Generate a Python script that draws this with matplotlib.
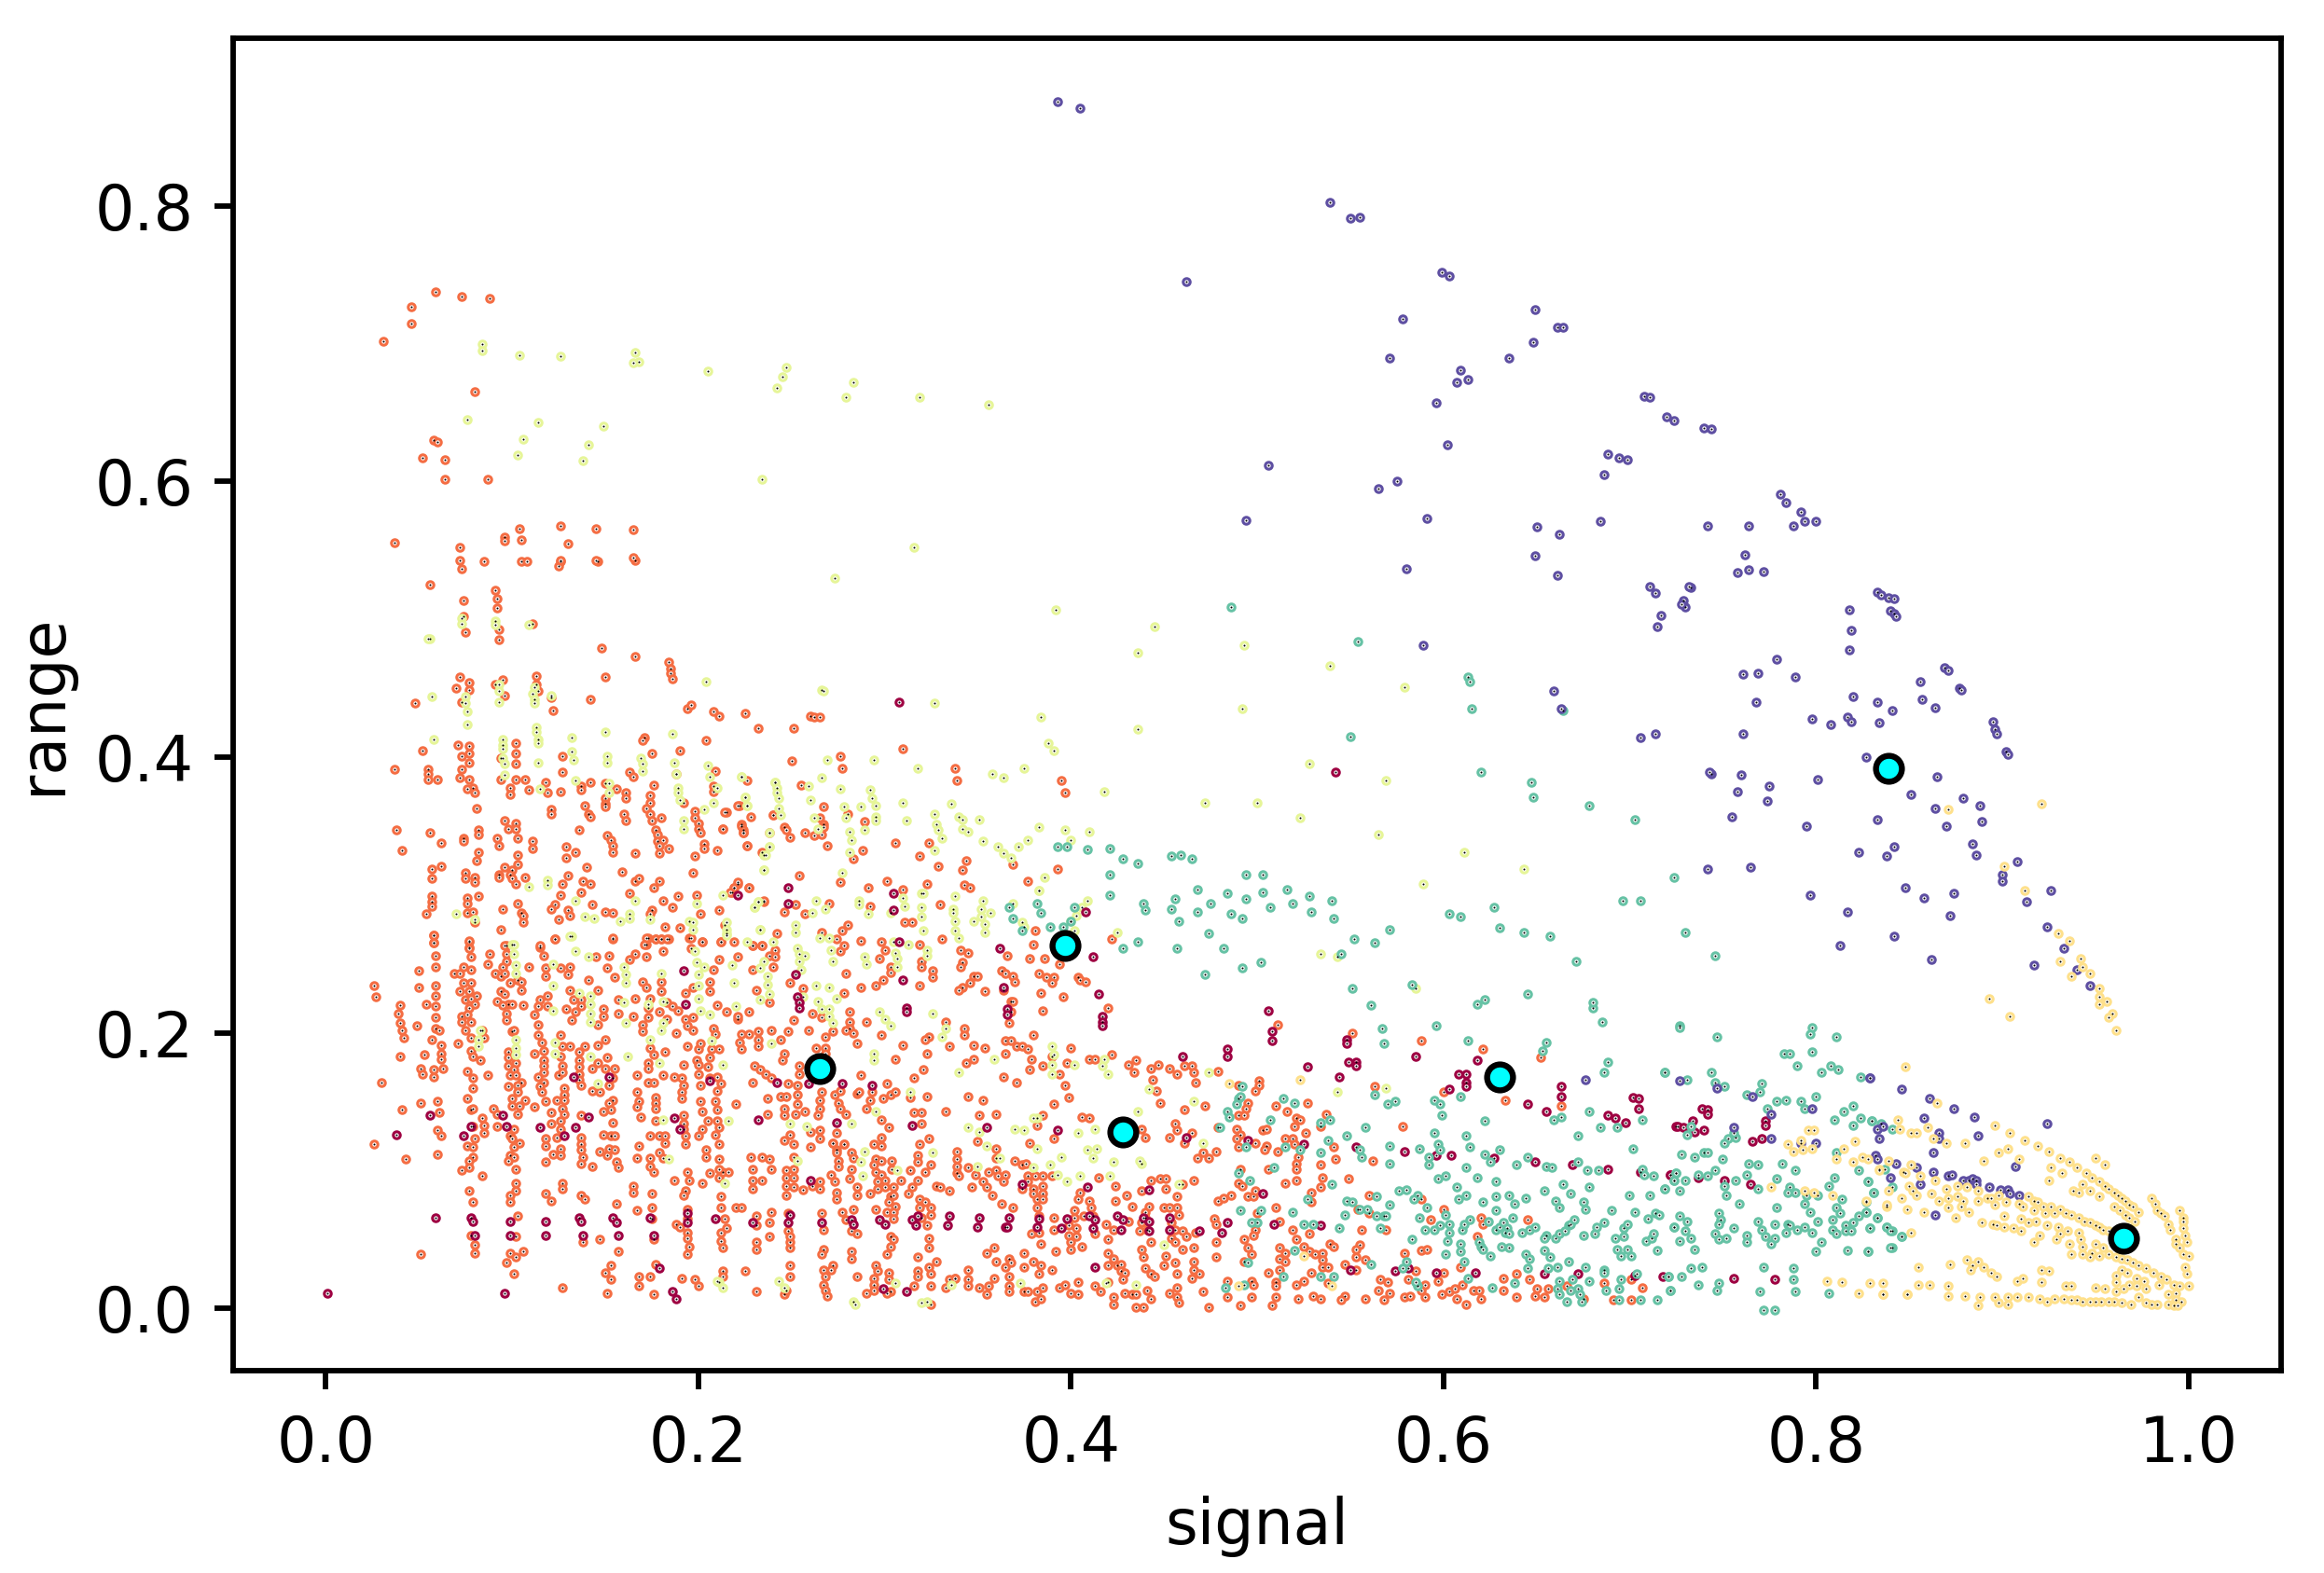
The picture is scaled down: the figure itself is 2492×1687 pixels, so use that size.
import numpy as np
import matplotlib
matplotlib.use("Agg")
import matplotlib.pyplot as plt

# (signal, range), un grupo por cluster
purple = [(.764,.536),(.733,.523),(.729,.514),(.730,.509),(.833,.520),(.835,.518),(.839,.516),(.842,.515),(.818,.507),(.840,.506),(.842,.504),(.843,.502),(.819,.492),(.818,.478),(.779,.471),(.761,.460),(.769,.461),(.789,.458),(.869,.465),(.871,.463),(.856,.455),(.877,.450),(.878,.449),(.768,.440),(.820,.444),(.833,.440),(.841,.434),(.857,.442),(.864,.436),(.798,.428),(.808,.424),(.817,.429),(.819,.426),(.834,.425),(.895,.426),(.896,.420),(.897,.417),(.761,.417),(.902,.404),(.903,.402),(.827,.400),(.744,.388),(.760,.387),(.775,.379),(.758,.375),(.774,.368),(.801,.384),(.865,.386),(.851,.373),(.864,.363),(.879,.370),(.888,.365),(.889,.353),(.870,.350),(.795,.350),(.833,.355),(.884,.337),(.886,.329),(.842,.335),(.823,.331),(.838,.328),(.765,.320),(.908,.324),(.900,.315),(.900,.310),(.926,.303),(.913,.295),(.848,.305),(.858,.298),(.874,.301),(.797,.300),(.872,.285),(.817,.288),(.924,.277),(.933,.261),(.842,.270),(.813,.263),(.862,.253),(.917,.249),(.940,.246),(.947,.234),
 (.393,.876),(.405,.871),(.539,.803),(.550,.791),(.555,.792),(.462,.745),(.599,.752),(.603,.749),(.578,.718),(.571,.690),(.649,.725),(.648,.701),(.661,.712),(.664,.712),(.609,.681),(.613,.674),(.607,.672),(.635,.690),(.596,.657),(.602,.627),(.708,.662),(.711,.661),(.720,.647),(.724,.644),(.740,.639),(.744,.638),(.688,.620),(.694,.617),(.699,.616),(.686,.605),(.684,.571),(.650,.567),(.662,.562),(.649,.546),(.661,.532),(.591,.573),(.565,.595),(.575,.600),(.506,.612),(.494,.572),(.580,.537),(.589,.481),(.711,.524),(.714,.519),(.732,.524),(.728,.511),(.717,.503),(.715,.495),(.742,.568),(.764,.568),(.762,.547),(.772,.535),(.758,.534),(.781,.591),(.784,.585),(.792,.578),(.788,.568),(.794,.571),(.800,.571),(.706,.414),(.714,.417),(.659,.448),(.663,.435),(.743,.389),(.755,.357),(.742,.319),
 (.829,.167),(.846,.159),(.861,.152),(.874,.145),(.885,.139),(.924,.134),(.858,.138),(.833,.130),(.836,.132),(.834,.123),(.866,.127),(.866,.123),(.887,.125),(.863,.113),(.907,.103),(.832,.111),(.833,.108),(.843,.105),(.854,.102),(.863,.099),(.871,.096),(.873,.097),(.879,.093),(.882,.093),(.884,.094),(.886,.093),(.886,.090),(.893,.088),(.899,.086),(.903,.086),(.904,.083),(.909,.082),(.840,.095),(.856,.090),(.864,.068),(.676,.166),
 (.727,.165),(.747,.160),(.766,.154),(.776,.141),(.798,.145),(.756,.131),(.776,.123),(.792,.120),(.800,.120),(.829,.167) ]

yellow = [(.844,.137),(.865,.149),(.845,.130),(.851,.127),(.854,.127),(.860,.131),(.863,.123),(.870,.120),(.880,.120),(.896,.133),(.904,.127),(.912,.122),(.919,.118),(.925,.114),(.931,.109),(.936,.106),(.940,.102),(.945,.098),(.948,.095),(.952,.092),(.955,.089),(.957,.087),(.960,.084),(.962,.082),(.964,.080),(.966,.078),(.968,.075),(.970,.074),(.973,.070),(.950,.109),(.955,.104),(.898,.113),(.903,.116),(.890,.107),(.909,.108),(.926,.102),(.932,.098),(.925,.093),(.943,.090),(.938,.085),(.941,.084),(.947,.085),(.952,.081),(.960,.074),(.963,.071),(.966,.068),(.968,.066),(.971,.063),(.980,.080),(.982,.076),(.983,.071),(.985,.069),(.987,.067),(.989,.061),(.990,.057),(.993,.050),(.993,.047),(.995,.044),(.997,.039),(.995,.071),(.997,.066),(.997,.063),(.997,.058),(.998,.053),(.999,.048),(1.0,.038),(.998,.030),(.999,.025),(1.0,.016),(.834,.101),
 (.847,.099),(.851,.104),(.848,.098),(.856,.096),(.864,.093),(.870,.087),(.876,.089),(.881,.088),(.887,.085),(.850,.089),(.852,.085),(.854,.082),(.846,.080),(.862,.083),(.866,.078),(.871,.080),(.876,.081),(.879,.078),(.887,.078),(.892,.080),(.896,.075),(.894,.080),(.898,.082),(.902,.077),(.914,.081),(.917,.078),(.919,.077),(.922,.074),(.926,.074),(.931,.072),(.934,.069),(.937,.068),(.941,.066),(.944,.063),(.947,.062),(.950,.060),(.952,.059),(.954,.057),(.957,.056),(.909,.076),(.911,.074),(.917,.071),(.923,.069),(.928,.069),
 (.838,.074),(.849,.072),(.858,.070),(.871,.073),(.878,.074),(.882,.070),(.875,.066),(.889,.062),(.895,.061),(.897,.060),(.901,.059),(.901,.067),(.906,.058),(.910,.065),(.910,.056),(.914,.062),(.918,.063),(.924,.060),(.930,.059),(.931,.054),(.935,.056),(.941,.055),(.942,.050),(.943,.045),(.920,.053),(.917,.048),(.929,.050),(.936,.047),(.950,.047),(.954,.044),(.937,.039),(.943,.039),(.948,.040),(.947,.037),(.952,.038),(.957,.039),(.961,.037),(.964,.036),(.967,.035),(.970,.033),(.973,.031),(.977,.029),(.981,.026),(.985,.023),(.988,.021),(.992,.017),(.995,.016),
 (.964,.028),(.967,.026),(.961,.024),(.961,.019),(.972,.022),(.968,.017),(.976,.020),(.972,.016),(.977,.014),(.965,.014),(.961,.012),(.955,.014),(.950,.015),(.984,.017),(.989,.010),(.993,.011),(.993,.006),(.996,.005),(.989,.003),(.992,.002),(.994,.002),(.983,.003),(.980,.003),(.977,.004),(.973,.008),(.969,.003),(.964,.004),(.960,.005),(.957,.005),(.953,.005),(.950,.005),(.947,.005),(.943,.005),(.940,.006),(.937,.006),(.933,.007),(.928,.007),(.924,.005),(.920,.007),(.914,.008),(.908,.008),(.903,.008),(.896,.008),(.888,.008),(.880,.009),(.871,.009),(.849,.010),(.836,.010),(.887,.002),(.898,.004),(.903,.003),
 (.855,.017),(.861,.017),(.871,.016),(.829,.018),(.836,.018),(.855,.030),(.872,.032),(.881,.035),(.887,.034),(.884,.031),(.883,.028),(.890,.030),(.894,.026),(.897,.023),(.908,.020),(.911,.022),(.921,.028),(.925,.027),(.921,.019),(.934,.016),(.937,.016),
 (.921,.366),(.871,.362),(.901,.321),(.912,.303),(.930,.272),(.936,.267),(.942,.254),(.931,.252),(.943,.248),(.947,.243),(.937,.241),(.952,.232),(.952,.226),(.956,.223),(.952,.221),(.959,.214),(.957,.211),(.893,.225),(.904,.212),(.961,.202),(.523,.166),(.485,.163),(.525,.038),(.540,.016),(.490,.016),
 (.796,.129),(.799,.129),(.785,.119),(.792,.122),(.788,.114),(.793,.115),(.798,.116),(.776,.088),(.794,.085),(.799,.084),(.809,.082),(.811,.108),(.815,.116),(.821,.121),(.820,.106),(.825,.110),(.828,.108),(.848,.175),(.839,.107),(.834,.100),(.839,.085),(.838,.075),(.827,.078),(.851,.055),(.806,.020),(.814,.019),(.823,.011),(.836,.010),(.849,.010) ]

teal = [(.551,.232),(.561,.220),(.618,.221),(.622,.224),(.645,.228),(.680,.218),(.685,.208),(.567,.203),(.568,.192),(.596,.205),(.613,.194),(.655,.193),(.653,.187),(.688,.179),(.686,.171),(.719,.171),(.609,.154),(.595,.151),(.598,.148),(.599,.140),(.622,.136),(.563,.155),(.570,.148),(.574,.150),(.678,.143),(.659,.137),(.663,.139),(.684,.131),(.693,.131),(.707,.137),(.672,.125),(.702,.116),(.558,.131),(.548,.125),(.538,.122),(.534,.135),(.539,.137),(.514,.152),(.520,.149),(.507,.137),(.484,.143),(.485,.139),(.490,.152),(.491,.154),(.492,.161),(.489,.148),(.480,.131),(.494,.117),(.515,.117),(.523,.115),(.534,.113),(.595,.127),(.597,.119),(.598,.115),(.587,.116),(.592,.110),(.592,.104),(.612,.125),(.614,.117),(.622,.112),(.630,.115),(.625,.106),(.571,.118),(.571,.105),(.555,.115),(.556,.110),(.639,.104),(.645,.110),(.655,.103),(.658,.102),(.672,.106),(.677,.100),(.683,.100),(.707,.101),(.708,.097),(.713,.096),(.724,.093),(.725,.098),(.612,.102),(.597,.094),(.601,.096),(.618,.095),(.628,.092),(.607,.088),(.664,.090),(.678,.088),(.668,.083),(.654,.085),(.719,.087),(.700,.082),(.711,.082),(.628,.081),(.635,.082),(.638,.076),(.644,.080),(.612,.082),(.608,.079),(.621,.077),(.628,.071),(.660,.078),(.662,.073),(.675,.077),(.676,.072),(.690,.071),(.703,.070),(.714,.069),(.716,.068),(.710,.065),(.724,.059),
 (.576,.085),(.580,.086),(.586,.082),(.584,.079),(.591,.073),(.571,.075),(.564,.081),(.548,.078),(.551,.077),(.559,.072),(.555,.072),(.547,.068),(.564,.067),(.568,.067),(.569,.067),(.566,.058),(.601,.068),(.587,.066),(.603,.061),(.598,.060),(.590,.057),(.595,.057),(.603,.055),(.610,.057),(.611,.061),(.614,.064),(.624,.063),(.637,.066),(.628,.057),(.630,.059),(.632,.062),(.634,.058),(.633,.055),(.635,.054),(.642,.055),(.646,.057),(.649,.059),(.655,.053),(.654,.051),(.660,.051),(.662,.054),(.665,.056),(.667,.060),(.668,.061),(.670,.064),(.675,.053),(.681,.054),(.682,.059),(.686,.062),(.692,.051),(.697,.058),(.699,.061),(.697,.052),(.709,.049),(.712,.051),(.713,.054),(.693,.043),(.699,.043),(.695,.038),(.701,.038),(.715,.042),(.583,.050),(.602,.049),(.609,.047),(.601,.039),(.609,.041),(.619,.048),(.620,.045),(.621,.043),(.625,.038),(.631,.045),(.635,.044),(.611,.034),(.644,.039),(.646,.036),(.654,.042),(.657,.037),(.645,.029),(.656,.029),(.661,.030),(.667,.034),(.676,.030),(.686,.028),(.686,.026),(.695,.021),(.704,.025),(.678,.020),(.669,.021),(.662,.020),(.638,.018),(.613,.022),(.721,.023),(.722,.013),(.706,.006),(.715,.006),(.694,.014),(.694,.006),(.687,.013),(.672,.014),(.668,.013),(.661,.014),(.662,.010),(.666,.005),(.674,.005),(.673,.010),(.626,.015),(.586,.016),(.585,.019),(.580,.034),(.578,.029),(.534,.023),(.541,.023),(.514,.023),(.520,.042),(.561,.032),(.495,.033),(.483,.015),(.493,.017),(.525,.061),(.530,.061),(.544,.058),(.500,.062),(.497,.062),(.491,.071),(.502,.071),(.496,.093),(.490,.098),(.509,.102),(.540,.090),(.527,.079),(.519,.070),
 (.486,.509),(.554,.484),(.550,.415),(.613,.458),(.614,.455),(.615,.435),(.664,.434),(.620,.389),(.647,.382),(.648,.371),(.678,.365),(.703,.355),(.696,.296),(.706,.296),(.724,.313),(.730,.273),(.746,.256),(.727,.205),(.680,.222),(.671,.252),(.657,.270),(.643,.273),(.630,.276),(.627,.291),(.609,.284),(.603,.286),(.583,.235),(.571,.275),(.563,.265),(.552,.268),(.545,.257),(.541,.283),
 (.367,.291),(.369,.283),(.374,.274),(.382,.294),(.384,.287),(.389,.277),(.393,.335),(.398,.335),(.409,.333),(.421,.334),(.421,.315),(.421,.300),(.428,.326),(.436,.323),(.439,.294),(.440,.289),(.454,.328),(.459,.329),(.465,.326),(.456,.297),(.454,.290),(.458,.281),(.468,.304),(.468,.288),(.475,.294),(.474,.272),(.484,.301),(.486,.286),(.494,.315),(.494,.297),(.492,.283),(.503,.315),(.503,.302),(.507,.291),(.516,.304),(.519,.294),(.528,.299),(.529,.288),(.540,.296),(.482,.261),(.492,.247),(.502,.251),(.472,.242),(.457,.261),(.436,.266),(.428,.261),(.396,.277),(.400,.281),(.402,.291),
 (.830,.136),(.835,.134),(.841,.130),(.837,.101),(.828,.092),(.841,.088),(.831,.084),(.827,.077),(.827,.070),(.833,.066),(.829,.058),(.838,.059),(.841,.056),(.846,.052),(.828,.041),(.841,.044),
 (.727,.204),(.747,.197),(.798,.204),(.797,.199),(.811,.197),(.783,.185),(.786,.185),(.798,.186),(.790,.176),(.803,.171),(.808,.176),(.812,.173),(.719,.171),(.731,.166),(.744,.171),(.746,.164),(.751,.161),(.771,.163),(.770,.157),(.763,.155),(.824,.168),(.779,.150),(.784,.151),(.792,.150),(.794,.145),(.800,.154),(.774,.145),(.820,.147),(.815,.143),(.810,.137),(.824,.138),(.820,.133),(.830,.136),(.733,.132),(.731,.126),(.757,.124),(.753,.123),(.751,.120),(.756,.127),(.728,.112),(.735,.110),(.740,.113),(.742,.113),(.750,.108),(.764,.105),(.769,.104),(.782,.105),(.789,.100),(.763,.097),(.746,.100),(.742,.096),(.737,.097),(.725,.098),(.724,.093),(.730,.093),(.719,.087),(.727,.085),(.751,.089),(.757,.093),(.752,.082),(.759,.076),(.769,.087),(.779,.094),(.786,.088),(.785,.084),(.789,.084),(.795,.082),(.801,.082),(.807,.089),(.810,.095),(.811,.113),(.823,.100),(.828,.092),(.831,.084),(.814,.079),(.794,.076),(.779,.073),(.797,.070),(.811,.073),(.813,.069),(.823,.067),(.827,.070),(.833,.066),
 (.727,.067),(.731,.063),(.724,.059),(.730,.056),(.733,.051),(.727,.049),(.735,.043),(.748,.069),(.749,.064),(.748,.061),(.746,.054),(.748,.050),(.752,.051),(.756,.058),(.763,.053),(.763,.048),(.769,.063),(.771,.057),(.773,.052),(.778,.061),(.778,.051),(.776,.047),(.784,.055),(.785,.061),(.786,.060),(.790,.057),(.794,.059),(.798,.055),(.801,.063),(.803,.048),(.800,.041),(.809,.064),(.809,.057),(.811,.054),(.816,.060),(.820,.062),(.816,.056),(.819,.056),(.829,.058),(.817,.042),(.828,.041),(.838,.059),(.840,.056),(.846,.052),(.840,.044),(.733,.029),(.739,.030),(.721,.023),(.728,.023),(.737,.017),(.722,.013),(.748,.018),(.747,.013),(.772,.030),(.788,.029),(.788,.021),(.770,.012),(.789,.012),(.807,.011),(.772,-.001),(.778,-.001) ]

orange = [(.026,.234),(.027,.226),(.040,.220),(.039,.214),(.040,.207),(.041,.202),(.042,.196),(.049,.205),(.050,.245),(.050,.233),(.054,.221),(.058,.271),(.058,.265),(.059,.256),(.059,.248),(.059,.234),(.059,.227),(.059,.219),(.059,.211),(.059,.203),(.061,.202),(.057,.195),(.062,.191),(.062,.185),(.062,.181),(.071,.192),(.053,.184),(.040,.183),(.051,.174),(.052,.170),(.058,.173),(.058,.168),(.063,.174),(.030,.164),(.041,.144),(.051,.149),(.060,.150),(.061,.142),(.060,.129),(.062,.125),(.026,.119),(.043,.108),(.060,.112),(.051,.039),
 (.077,.266),(.077,.262),(.078,.255),(.078,.246),(.069,.243),(.072,.243),(.074,.248),(.074,.236),(.072,.230),(.078,.236),(.077,.230),(.081,.227),(.075,.224),(.078,.225),(.080,.221),(.077,.218),(.073,.212),(.076,.213),(.073,.208),(.078,.208),(.075,.202),(.078,.196),(.084,.202),(.085,.196),(.078,.187),(.079,.183),(.083,.180),(.076,.172),(.079,.167),(.087,.169),(.079,.160),(.076,.152),(.078,.144),(.079,.145),(.084,.138),(.085,.133),(.085,.127),(.079,.132),(.080,.123),(.076,.118),(.079,.117),(.079,.110),(.077,.107),(.077,.102),(.073,.100),(.084,.096),(.077,.085),(.079,.077),(.080,.046),(.080,.040),(.078,.053),
 (.097,.263),(.088,.257),(.087,.250),(.097,.257),(.097,.252),(.095,.248),(.091,.243),(.094,.241),(.096,.243),(.099,.236),(.103,.238),(.105,.237),(.105,.231),(.109,.248),(.092,.223),(.094,.230),(.096,.228),(.098,.221),(.100,.221),(.095,.220),(.097,.214),(.097,.209),(.106,.220),(.100,.201),(.101,.202),(.098,.186),(.098,.182),(.098,.176),(.102,.178),(.101,.173),(.099,.169),(.102,.169),(.105,.164),(.098,.161),(.103,.162),(.103,.157),(.100,.152),(.104,.147),(.107,.151),(.100,.147),(.103,.141),(.112,.146),(.090,.145),(.092,.141),(.092,.132),(.101,.130),(.099,.125),(.104,.120),(.100,.123),(.101,.117),(.099,.111),(.101,.110),(.098,.107),(.102,.101),(.102,.091),(.102,.085),(.099,.082),(.099,.077),(.103,.067),(.102,.052),(.099,.040),(.102,.037),(.106,.041),(.097,.033),(.101,.025),(.127,.015),
 (.115,.262),(.117,.256),(.123,.268),(.118,.247),(.118,.241),(.131,.248),(.126,.247),(.130,.242),(.141,.238),(.131,.231),(.119,.227),(.115,.224),(.114,.219),(.119,.219),(.112,.213),(.129,.217),(.134,.215),(.132,.209),(.133,.224),(.137,.224),(.137,.219),(.114,.206),(.114,.198),(.116,.193),(.126,.198),(.127,.190),(.131,.190),(.139,.190),(.146,.191),(.150,.195),(.146,.206),(.149,.217),(.149,.212),(.146,.231),(.152,.256),(.154,.268),(.151,.247),(.155,.240),(.145,.255),
 (.112,.185),(.117,.187),(.117,.180),(.117,.176),(.117,.171),(.126,.183),(.114,.168),(.117,.164),(.115,.161),(.116,.157),(.127,.176),(.125,.169),(.127,.171),(.128,.160),(.128,.155),(.124,.151),(.128,.151),(.127,.145),(.128,.141),(.118,.150),(.121,.142),(.121,.134),(.126,.136),(.126,.130),(.124,.124),(.118,.123),(.118,.118),(.122,.112),(.126,.116),(.126,.111),(.118,.106),(.118,.083),(.121,.078),(.127,.091),(.127,.087),
 (.136,.186),(.136,.180),(.136,.175),(.136,.170),(.136,.166),(.137,.162),(.143,.158),(.146,.178),(.143,.174),(.150,.174),(.151,.182),(.155,.174),(.154,.167),(.152,.162),(.147,.157),(.154,.151),(.152,.149),(.149,.143),(.153,.144),(.154,.135),(.137,.140),(.149,.126),(.153,.125),(.155,.125),(.147,.114),(.151,.111),(.152,.116),(.155,.115),(.137,.124),(.137,.119),(.137,.115),(.138,.110),(.137,.105),(.143,.103),(.156,.106),(.157,.102),(.137,.082),(.139,.079),(.156,.076),(.138,.048),(.147,.050),(.157,.041),(.153,.031),(.150,.026),(.153,.021),(.151,.011),
 (.167,.169),(.167,.157),(.168,.150),(.167,.146),(.169,.139),(.173,.164),(.176,.164),(.177,.153),(.177,.149),(.177,.145),(.181,.169),(.187,.168),(.191,.167),(.192,.162),(.191,.157),(.191,.152),(.177,.136),(.174,.125),(.179,.125),(.182,.125),(.182,.120),(.168,.118),(.167,.109),(.174,.109),(.174,.103),(.176,.099),(.179,.113),(.181,.109),(.192,.140),(.192,.134),(.192,.130),(.193,.125),(.193,.119),(.194,.099),(.195,.093),(.187,.093),(.193,.085),(.192,.082),(.165,.089),(.165,.084),(.167,.071),(.175,.083),(.175,.073),(.175,.065),(.176,.050),(.177,.032),(.168,.023),(.168,.016),(.174,.023),(.176,.010),(.191,.022),(.198,.021),(.200,.016),(.194,.055),(.194,.051),(.195,.045),(.194,.039),(.188,.061),(.190,.059),(.194,.072),(.194,.065),
 (.212,.049),(.213,.044),(.213,.027),(.213,.023),(.212,.055),(.215,.058),(.214,.065),(.212,.073),(.220,.073),(.223,.073),(.225,.027),(.212,.081),(.211,.095),(.213,.099),(.216,.099),(.206,.098),(.202,.091),(.211,.101),(.211,.108),(.211,.119),(.204,.115),(.204,.110),(.200,.125),(.202,.130),(.209,.126),(.211,.131),(.210,.136),(.205,.136),(.210,.144),(.201,.150),(.202,.143),(.209,.150),(.210,.158),(.212,.163),(.220,.148),(.200,.170),(.201,.162),(.206,.167),(.205,.175),(.210,.168),(.200,.188),(.199,.180),(.200,.177),(.192,.177),(.208,.203),(.209,.199),(.207,.188),(.211,.188),(.206,.182),(.194,.190),(.201,.192),(.174,.189),(.176,.184),(.182,.186),(.173,.178),(.173,.174),(.222,.193),(.223,.188),(.223,.199),(.221,.210),
 (.170,.206),(.170,.201),(.188,.200),(.197,.202),(.194,.205),(.193,.210),(.197,.211),(.173,.211),(.173,.218),(.166,.225),(.157,.224),(.157,.214),(.165,.212),(.170,.237),(.172,.233),(.174,.225),(.180,.237),(.180,.230),(.183,.222),(.186,.219),(.189,.216),(.179,.215),(.183,.210),(.193,.229),(.197,.233),(.206,.237),(.208,.246),(.211,.253),(.202,.266),(.195,.269),(.173,.269),(.177,.268),(.180,.268),(.184,.268),(.172,.264),(.166,.257),(.163,.253),(.172,.255),(.181,.259),(.212,.266),(.221,.255),(.206,.230),(.210,.220),(.215,.215),(.221,.212),
 (.073,.537),(.085,.542),(.105,.542),(.108,.542),(.126,.542),(.125,.539),(.146,.542),(.166,.543),(.056,.525),(.074,.514),(.091,.521),(.092,.515),(.092,.508),(.074,.502),(.075,.491),(.093,.493),(.093,.485),(.111,.497),(.148,.479),(.166,.473),(.184,.469),(.185,.464),(.185,.461),(.186,.457),(.072,.458),(.077,.454),(.070,.450),(.077,.449),(.073,.440),(.048,.439),(.091,.453),(.095,.456),(.096,.445),(.113,.459),(.113,.453),(.114,.448),(.121,.443),(.122,.434),(.150,.458),(.142,.442),(.194,.435),(.196,.438),(.208,.433),(.211,.430),(.225,.432),(.232,.421),(.204,.412),(.171,.414),(.170,.412),(.175,.403),(.190,.405),
 (.071,.409),(.077,.408),(.052,.405),(.073,.401),(.077,.403),(.077,.396),(.037,.391),(.055,.391),(.055,.388),(.055,.384),(.060,.384),(.073,.391),(.072,.385),(.077,.384),(.079,.378),(.076,.377),(.080,.374),(.081,.363),(.102,.410),(.102,.403),(.102,.395),(.094,.399),(.094,.384),(.102,.384),(.107,.384),(.099,.378),(.099,.373),(.109,.376),(.119,.374),(.118,.382),(.126,.375),(.127,.389),(.127,.401),(.137,.379),(.137,.376),(.142,.382),(.150,.381),(.156,.377),(.161,.374),(.161,.370),(.150,.370),(.150,.366),(.150,.364),(.139,.365),(.141,.359),(.142,.357),(.121,.362),(.121,.359),(.163,.389),(.165,.386),(.176,.380),(.174,.372),(.174,.367),(.172,.363),(.174,.359),(.175,.354),(.180,.356),(.160,.359),(.161,.354),(.188,.388),(.192,.367),(.209,.390),(.208,.375),(.208,.379),(.226,.383),(.222,.365),(.198,.361),(.215,.360),(.228,.357),(.240,.358),(.198,.356),(.200,.352),(.200,.348),(.201,.345),(.213,.348),(.223,.351),(.224,.345),(.177,.347),(.178,.344),(.178,.339),(.181,.340),(.179,.336),(.179,.330),(.184,.334),(.166,.330),(.198,.328),(.203,.337),(.203,.334),(.210,.332),(.226,.336),(.197,.316),(.159,.317),
 (.038,.347),(.056,.345),(.062,.338),(.041,.332),(.082,.347),(.082,.344),(.074,.341),(.074,.339),(.092,.341),(.093,.336),(.096,.354),(.098,.348),(.102,.352),(.102,.348),(.103,.341),(.111,.339),(.111,.334),(.136,.347),(.129,.335),(.134,.331),(.129,.327),(.151,.343),(.153,.340),(.154,.336),(.154,.331),(.082,.331),(.081,.325),(.103,.329),(.103,.322),(.096,.320),(.093,.315),(.093,.313),(.100,.318),(.099,.315),(.100,.312),(.102,.308),(.107,.313),(.057,.319),(.062,.321),(.057,.312),(.075,.316),(.075,.312),(.080,.313),(.080,.309),(.082,.299),(.057,.299),(.057,.295),(.057,.292),(.054,.286),(.076,.298),(.076,.294),(.076,.287),(.079,.288),(.080,.280),(.095,.290),(.103,.294),(.105,.287),(.106,.285),(.106,.280),(.094,.275),(.058,.271),(.058,.265),(.077,.267),(.077,.261),(.096,.263),(.115,.263),
 (.140,.320),(.130,.314),(.127,.308),(.138,.310),(.142,.308),(.137,.302),(.126,.300),(.123,.293),(.121,.290),(.130,.289),(.131,.285),(.143,.293),(.125,.282),(.150,.288),(.154,.287),(.123,.268),(.154,.269),(.166,.310),(.168,.312),(.179,.310),(.176,.305),(.163,.301),(.181,.296),(.175,.289),(.174,.286),(.186,.291),(.189,.299),(.199,.300),(.201,.286),(.182,.277),(.190,.276),(.196,.269),(.202,.266),(.211,.289),(.218,.302),(.219,.305),(.221,.308),(.227,.305),(.235,.295),(.214,.278),(.212,.266),(.219,.266),(.172,.269),(.177,.268),(.180,.268),(.183,.268),(.171,.264),(.196,.261),(.229,.263),(.234,.263),
 (.031,.702),(.046,.727),(.046,.715),(.059,.738),(.073,.734),(.088,.733),(.080,.665),(.058,.630),(.060,.629),(.052,.617),(.064,.616),(.087,.602),(.064,.602),(.037,.556),(.072,.552),(.072,.543),(.096,.560),(.104,.566),(.105,.558),(.096,.557),(.126,.568),(.130,.555),(.126,.543),(.145,.566),(.145,.543),(.165,.565),(.165,.545),
 (.235,.296),(.246,.288),(.252,.293),(.257,.286),(.270,.294),(.242,.272),(.229,.263),(.234,.263),(.238,.256),(.241,.260),(.241,.255),(.240,.248),(.229,.246),(.249,.236),(.231,.231),(.238,.222),(.256,.232),(.278,.229),(.266,.273),(.274,.268),(.280,.278),(.277,.274),(.276,.259),(.278,.263),(.287,.267),(.292,.292),(.298,.266),(.300,.260),(.297,.254),(.303,.248),(.303,.244),(.279,.243),(.287,.233),(.295,.234),(.299,.238),(.319,.234),(.311,.280),(.315,.280),(.319,.264),(.320,.252),(.320,.248),(.326,.245),(.326,.240),(.330,.293),(.331,.268),(.341,.260),(.345,.258),(.342,.251),(.341,.248),(.348,.241),(.350,.241),(.346,.236),(.342,.233),(.340,.231),(.354,.230),(.366,.256),(.363,.245),(.365,.243),(.369,.241),(.370,.237),(.364,.231),(.381,.274),(.380,.264),(.378,.254),(.386,.254),(.394,.250),(.383,.243),(.387,.240),(.391,.240),(.390,.236),(.404,.240),(.405,.238),(.408,.237),(.384,.229),(.396,.226),(.422,.268),(.368,.223),(.385,.216),(.420,.218),(.368,.215),(.367,.207),(.369,.223),
 (.227,.215),(.232,.201),(.239,.202),(.232,.195),(.232,.190),(.227,.199),(.248,.201),(.244,.195),(.251,.209),(.259,.202),(.266,.211),(.261,.214),(.281,.215),(.281,.208),(.290,.208),(.281,.203),(.279,.202),(.283,.200),(.272,.201),(.268,.197),(.263,.189),(.268,.189),(.268,.185),(.285,.192),(.298,.198),(.310,.191),(.324,.197),(.322,.195),(.323,.185),(.335,.190),(.333,.208),(.343,.203),(.343,.198),(.348,.191),(.354,.189),(.344,.178),(.348,.181),(.306,.181),(.321,.173),(.316,.167),(.287,.169),(.365,.194),(.368,.194),(.371,.190),(.374,.190),(.377,.188),(.379,.181),(.378,.173),(.380,.198),(.365,.185),(.385,.176),(.398,.178),(.400,.189),(.394,.170),(.390,.183),(.410,.181),(.413,.181),(.422,.184),(.364,.168),(.371,.164),(.399,.153),(.391,.148),(.397,.162),
 (.246,.185),(.245,.180),(.254,.176),(.254,.170),(.230,.176),(.233,.173),(.236,.170),(.239,.167),(.229,.164),(.248,.163),(.253,.162),(.253,.155),(.253,.148),(.252,.141),(.244,.154),(.247,.154),(.237,.152),(.246,.145),(.246,.140),(.237,.141),(.257,.143),(.265,.151),(.265,.145),(.264,.140),(.266,.157),(.273,.155),(.276,.158),(.275,.149),(.276,.145),(.279,.141),(.265,.129),(.265,.123),(.260,.128),(.249,.126),(.251,.119),(.246,.122),(.260,.117),(.274,.127),(.272,.120),(.278,.119),(.274,.115),(.285,.156),(.286,.157),(.290,.145),(.299,.152),(.303,.155),(.306,.157),(.292,.151),(.293,.157),(.301,.163),(.298,.137),(.302,.131),(.314,.153),(.323,.154),(.333,.143),(.345,.154),(.353,.151),(.351,.140),(.360,.141),(.316,.142),(.320,.142),(.320,.134),(.350,.121),(.378,.120),(.391,.123),(.382,.133),(.385,.140),(.406,.139),(.410,.138),
 (.228,.110),(.234,.110),(.238,.108),(.229,.101),(.239,.101),(.229,.093),(.234,.093),(.229,.087),(.247,.100),(.247,.095),(.247,.089),(.251,.095),(.251,.088),(.247,.082),(.251,.110),(.251,.101),(.256,.086),(.265,.092),(.261,.089),(.265,.087),(.271,.097),(.273,.092),(.274,.084),(.274,.079),(.272,.120),(.274,.113),(.275,.107),(.275,.103),(.278,.119),(.282,.113),(.283,.109),(.282,.101),(.281,.094),(.285,.088),(.285,.082),(.292,.083),(.294,.119),(.298,.124),(.298,.118),(.295,.108),(.298,.107),(.294,.104),(.295,.099),(.298,.097),(.300,.093),(.296,.092),(.296,.087),(.300,.088),(.304,.107),(.304,.101),(.305,.088),(.303,.081),(.305,.082),(.306,.074),(.302,.077),(.301,.070),(.305,.070),(.295,.072),(.283,.072),(.277,.070),(.279,.064),(.282,.056),(.285,.054),(.305,.065),
 (.314,.100),(.309,.093),(.318,.093),(.315,.088),(.313,.083),(.322,.099),(.325,.104),(.324,.123),(.319,.119),(.318,.111),(.318,.106),(.328,.089),(.330,.088),(.335,.085),(.319,.079),(.322,.077),(.325,.073),(.319,.073),(.325,.068),(.320,.066),(.323,.060),(.339,.114),(.339,.108),(.339,.103),(.339,.098),(.340,.096),(.345,.102),(.349,.097),(.356,.099),(.353,.092),(.355,.088),(.347,.088),(.358,.082),(.360,.100),(.361,.096),(.365,.097),(.364,.092),(.360,.116),(.360,.109),(.370,.107),(.374,.104),(.376,.105),(.377,.096),(.381,.096),(.385,.096),(.390,.096),(.377,.092),(.374,.087),(.380,.087),(.385,.089),(.380,.083),(.385,.083),(.382,.079),(.385,.079),(.382,.073),(.383,.067),(.383,.055),(.379,.054),(.363,.076),(.369,.073),
 (.405,.084),(.404,.079),(.415,.095),(.424,.089),(.430,.082),(.424,.078),(.433,.074),(.410,.078),(.411,.073),(.402,.071),(.407,.067),(.402,.066),(.412,.067),(.391,.066),(.419,.061),(.431,.063),(.423,.057),(.403,.058),(.399,.060),(.391,.057),(.399,.053),(.403,.052),(.400,.048),(.413,.054),(.420,.050),(.406,.045),(.400,.043),(.384,.047),(.392,.041),(.375,.040),(.359,.044),(.355,.040),(.360,.034),(.367,.036),(.368,.033),(.365,.030),(.375,.030),(.380,.034),(.384,.031),(.383,.025),(.390,.028),(.367,.023),(.359,.022),(.345,.028),(.345,.021),(.345,.016),(.338,.022),(.351,.015),(.356,.016),(.355,.010),(.367,.016),(.367,.012),(.375,.012),(.377,.012),(.382,.012),(.385,.015),(.381,.005),(.384,.007),(.394,.015),(.397,.017),(.400,.011),(.404,.019),(.404,.010),(.413,.016),(.416,.012),(.423,.008),(.423,.003),(.420,.019),(.429,.011),(.433,.010),(.435,.010),(.435,.001),(.439,.001),(.443,.007),(.441,.013),(.453,.011),(.457,.015),(.457,.008),(.458,.004),(.471,.012),(.474,.001),
 (.420,.040),(.423,.036),(.420,.031),(.425,.031),(.427,.032),(.427,.027),(.429,.026),(.428,.021),(.438,.043),(.439,.037),(.440,.029),(.443,.048),(.443,.025),(.445,.023),(.450,.031),(.451,.038),(.456,.033),(.457,.025),(.460,.043),(.466,.034),(.466,.044),(.466,.028),(.465,.022),(.469,.025),(.450,.073),(.453,.073),(.457,.073),(.458,.068),(.454,.062),(.456,.057),(.454,.051),(.456,.048),(.460,.056),(.462,.052),(.467,.055),(.442,.074),(.440,.066),(.438,.062),(.437,.056),(.441,.057),(.440,.070),(.471,.113),(.468,.109),(.474,.109),(.466,.093),(.460,.090),(.457,.081),(.451,.087),(.443,.093),(.448,.094),(.451,.094),(.438,.085),(.461,.120),(.465,.127),(.453,.124),(.457,.129),(.456,.134),(.461,.144),(.448,.149),(.446,.158),(.438,.130),(.440,.124),(.467,.164),(.457,.170),(.444,.166),(.443,.174),(.447,.177),(.453,.174),(.461,.176),(.465,.176),(.466,.171),(.431,.177),(.434,.171),(.435,.180),(.472,.147),
 (.479,.172),(.501,.165),(.501,.162),(.499,.158),(.490,.162),(.495,.149),(.494,.145),(.490,.140),(.493,.140),(.510,.147),(.516,.143),(.527,.149),(.511,.206),(.521,.138),(.523,.137),(.520,.132),(.537,.141),(.534,.132),(.526,.127),(.503,.129),(.505,.130),(.489,.130),(.491,.126),(.489,.123),(.490,.117),(.499,.120),(.505,.118),(.504,.115),(.511,.114),(.515,.123),(.519,.123),(.520,.119),(.541,.117),(.542,.108),(.522,.110),(.521,.105),(.521,.101),(.534,.104),(.506,.101),(.491,.101),(.535,.095),(.521,.093),(.515,.091),(.534,.088),(.549,.094),(.562,.107),(.578,.132),(.551,.200),(.563,.161),(.588,.194),(.621,.188),(.652,.182),(.600,.157),(.633,.151),(.663,.147),(.490,.091),(.492,.089),(.495,.081),(.498,.081),(.499,.085),(.479,.078),(.482,.080),(.486,.082),(.529,.084),(.529,.077),(.510,.073),(.512,.063),(.519,.057),(.528,.054),(.521,.050),(.500,.069),(.499,.057),(.498,.053),(.493,.050),(.495,.044),(.497,.039),(.493,.034),(.478,.037),(.478,.048),(.477,.065),(.478,.061),(.512,.044),(.515,.040),(.512,.036),(.515,.034),(.525,.045),(.528,.041),(.531,.039),(.535,.040),(.535,.035),(.535,.030),(.538,.030),(.539,.047),(.541,.045),(.555,.046),(.553,.043),(.553,.037),(.547,.032),(.553,.028),(.558,.035),(.556,.057),(.569,.057),(.560,.082),(.554,.072),(.560,.069),(.588,.079),(.600,.072),(.593,.064),(.620,.066),(.621,.061),(.645,.064),(.618,.052),(.579,.040),(.588,.042),(.591,.043),(.609,.030),(.600,.026),(.585,.027),(.581,.021),(.566,.021),(.570,.019),(.597,.020),(.639,.025),(.632,.022),(.646,.021),(.701,.021),(.707,.015),(.686,.018),
 (.484,.020),(.497,.020),(.498,.017),(.510,.019),(.510,.016),(.484,.008),(.497,.008),(.510,.008),(.491,.002),(.508,.002),(.522,.007),(.530,.009),(.534,.007),(.547,.009),(.545,.006),(.558,.007),(.568,.006),(.571,.011),(.565,.013),(.579,.008),(.582,.009),(.590,.008),(.590,.017),(.588,.013),(.599,.010),(.603,.012),(.607,.007),(.612,.003),(.606,.014),(.610,.017),(.616,.013),(.619,.013),(.620,.007),(.632,.013),(.639,.008),(.649,.009),(.650,.014),(.654,.008),(.656,.014),(.666,.016),(.675,.007),(.691,.006),(.701,.006),(.521,.017),(.525,.020),(.529,.026),(.506,.026),(.512,.028),(.538,.018),(.478,.114),(.479,.131),
 (.231,.048),(.231,.043),(.238,.052),(.249,.044),(.249,.048),(.267,.043),(.266,.039),(.282,.041),(.282,.036),(.303,.052),(.305,.050),(.303,.045),(.301,.039),(.324,.051),(.324,.044),(.318,.037),(.328,.034),(.295,.031),(.296,.027),(.294,.022),(.302,.026),(.302,.021),(.290,.011),(.294,.017),(.294,.013),(.303,.012),(.318,.027),(.318,.023),(.324,.030),(.325,.025),(.325,.016),(.316,.016),(.333,.015),(.335,.021),(.338,.022),(.267,.028),(.268,.023),(.267,.017),(.268,.013),(.269,.009),(.272,.031),(.271,.028),(.285,.023),(.249,.031),(.249,.023),(.246,.010),(.247,.013),(.231,.012),(.231,.067),(.231,.060),(.239,.070),(.238,.062),(.248,.069),(.248,.056),(.249,.052),(.266,.069),(.267,.057),(.325,.003),(.301,.011),
 (.251,.421),(.260,.430),(.262,.429),(.265,.429),(.250,.397),(.276,.401),(.277,.392),(.310,.406),(.338,.392),(.339,.383),(.255,.380),(.395,.383),(.397,.374),(.221,.365),(.214,.360),(.240,.358),(.267,.364),(.265,.356),(.280,.359),(.289,.353),(.223,.350),(.224,.347),(.224,.345),(.213,.348),(.246,.349),(.247,.347),(.249,.342),(.257,.345),(.267,.351),(.267,.349),(.266,.344),(.262,.343),(.238,.345),(.226,.336),(.269,.336),(.234,.331),(.306,.338),(.288,.332),(.283,.326),(.324,.338),(.319,.328),(.329,.321),(.344,.325),(.342,.318),(.369,.322),(.393,.319),(.254,.314),(.276,.309),(.301,.310),(.310,.304),(.291,.305),(.323,.308),(.343,.307),(.346,.305),(.377,.310),(.221,.309),(.227,.305),(.219,.305),(.217,.302) ]

maroon = [(.001,.011),(.056,.140),(.038,.126),(.095,.140),(.078,.132),(.074,.125),(.097,.132),(.115,.131),(.134,.131),(.128,.125),(.141,.139),(.187,.138),(.190,.130),(.133,.168),(.152,.168),(.192,.245),(.193,.221),(.206,.165),(.059,.066),(.078,.066),(.079,.063),(.099,.063),(.118,.063),(.136,.066),(.137,.063),(.154,.066),(.156,.062),(.174,.066),(.194,.069),(.209,.065),(.080,.053),(.099,.053),(.118,.053),(.138,.053),(.157,.053),(.176,.053),(.096,.011),(.179,.029),(.186,.012),(.188,.007),(.194,.062),
 (.242,.164),(.259,.163),(.277,.163),(.293,.162),(.232,.137),(.274,.135),(.315,.133),(.355,.131),(.393,.129),(.462,.124),(.260,.093),(.374,.090),(.409,.088),(.442,.086),(.249,.068),(.229,.062),(.248,.062),(.266,.062),(.282,.064),(.283,.061),(.297,.064),(.300,.061),(.315,.064),(.318,.067),(.317,.060),(.335,.067),(.334,.060),(.351,.066),(.350,.059),(.367,.066),(.365,.059),(.366,.059),(.383,.065),(.382,.059),(.398,.065),(.395,.058),(.410,.067),(.413,.064),(.412,.058),(.425,.067),(.428,.064),(.427,.057),(.439,.066),(.442,.063),(.442,.056),(.453,.066),(.453,.057),(.469,.056),(.299,.014),(.312,.012),(.413,.030),(.460,.183),
 (.248,.305),(.248,.294),(.305,.301),(.305,.289),(.252,.242),(.253,.226),(.254,.222),(.254,.218),(.308,.266),(.310,.238),(.312,.218),(.312,.215),(.362,.261),(.364,.233),(.366,.217),(.366,.213),(.408,.288),(.412,.255),(.415,.228),(.417,.212),(.417,.208),(.417,.205),
 (.506,.216),(.508,.201),(.508,.194),(.484,.188),(.484,.183),(.548,.195),(.548,.192),(.527,.175),(.549,.179),(.553,.179),(.553,.176),(.544,.168),(.585,.183),(.618,.180),(.608,.170),(.612,.170),(.612,.164),(.612,.161),(.603,.159),(.663,.161),(.663,.154),(.702,.153),(.705,.152),(.705,.145),(.645,.148),(.655,.143),(.688,.140),(.692,.138),(.698,.135),(.725,.132),(.495,.122),(.525,.119),(.553,.117),(.579,.114),(.596,.111),(.604,.111),(.627,.109),(.649,.106),(.669,.104),(.688,.101),(.706,.099),(.722,.097),(.503,.083),(.534,.060),(.509,.061),(.484,.062),(.481,.055),(.574,.027),(.581,.029),(.596,.026),(.617,.026),(.654,.025),(.672,.025),(.703,.024),(.718,.023),(.550,.028),(.308,.440),(.542,.389),
 (.739,.145),(.742,.144),(.742,.141),(.734,.136),(.726,.132),(.729,.131),(.735,.128),(.740,.129),(.773,.136),(.773,.133),(.766,.121),(.771,.123),(.722,.097),(.737,.095),(.751,.093),(.765,.090),(.756,.022),(.778,.021),(.221,.300) ]

lime = [(.056,.486),(.073,.501),(.073,.497),(.091,.499),(.091,.496),(.109,.496),(.057,.444),(.075,.444),(.075,.439),(.076,.433),(.076,.424),(.093,.453),(.093,.448),(.093,.440),(.112,.451),(.111,.446),(.112,.442),(.112,.439),(.121,.445),(.204,.455),(.058,.413),(.095,.413),(.095,.409),(.095,.406),(.095,.399),(.096,.395),(.096,.387),(.113,.422),(.113,.418),(.114,.413),(.114,.410),(.114,.396),(.132,.414),(.132,.404),(.133,.398),(.150,.418),(.151,.401),(.151,.396),(.186,.417),(.169,.399),(.170,.395),(.170,.390),(.187,.396),(.188,.388),(.205,.394),(.206,.386),(.223,.386),(.241,.382),(.115,.377),(.134,.383),(.152,.381),(.152,.374),(.189,.378),(.189,.374),(.190,.369),(.208,.367),(.210,.378),(.225,.371),(.226,.365),(.203,.362),(.192,.354),(.192,.348),(.238,.345),(.238,.335),(.235,.329),(.235,.318),(.213,.300),(.232,.295),(.230,.291),(.119,.311),(.119,.307),(.109,.306),(.134,.296),(.070,.286),(.080,.282),(.139,.284),(.144,.283),(.158,.281),(.163,.286),(.163,.283),(.174,.282),(.166,.296),(.199,.294),(.195,.281),(.197,.280),(.197,.275),(.215,.280),(.215,.275),(.215,.272),(.233,.275),(.226,.266),(.240,.266),(.132,.270),(.100,.264),
 (.084,.700),(.084,.695),(.104,.692),(.126,.691),(.166,.694),(.168,.687),(.165,.686),(.205,.680),(.247,.683),(.245,.676),(.242,.668),(.283,.672),(.279,.661),(.319,.661),(.356,.656),(.076,.645),(.114,.643),(.106,.631),(.103,.619),(.149,.640),(.141,.627),(.138,.615),(.234,.602),(.316,.552),(.273,.530),(.055,.486),(.392,.507),(.445,.495),(.493,.481),(.579,.451),(.539,.466),(.436,.476),(.492,.435),(.436,.420),(.528,.395),(.569,.383),(.500,.367),(.472,.367),(.523,.356),(.611,.331),(.643,.319),(.589,.308),(.534,.257),(.543,.255),(.565,.344),(.266,.449),(.418,.375),
 (.402,.177),(.418,.181),(.370,.130),(.382,.138),(.414,.116),(.430,.122),(.438,.105),(.283,.005),(.323,.005),(.211,.019),
 (.101,.264),(.101,.257),(.102,.249),(.102,.243),(.122,.250),(.134,.259),(.141,.255),(.160,.248),(.161,.242),(.161,.236),(.122,.234),(.122,.216),(.136,.229),(.142,.227),(.142,.221),(.142,.214),(.142,.208),(.160,.222),(.161,.207),(.173,.221),(.180,.243),(.181,.223),(.181,.207),(.180,.202),(.199,.251),(.200,.242),(.200,.234),(.200,.225),(.201,.216),(.206,.213),(.218,.249),(.219,.236),(.220,.219),(.083,.202),(.082,.195),(.082,.190),(.102,.195),(.102,.189),(.102,.184),(.123,.193),(.123,.185),(.142,.183),(.162,.183),(.179,.178),(.213,.177),(.174,.195),(.207,.194),(.146,.163),(.181,.137),(.216,.136),(.184,.108),(.214,.091),(.210,.020),(.213,.015),(.198,.259),(.215,.271),(.131,.270),(.203,.248),
 (.267,.448),(.327,.439),(.384,.429),(.388,.410),(.391,.405),(.269,.398),(.294,.398),(.318,.392),(.358,.388),(.364,.385),(.375,.392),(.266,.385),(.259,.379),(.276,.377),(.292,.376),(.241,.382),(.242,.378),(.242,.374),(.243,.370),(.243,.363),(.244,.358),(.223,.386),(.225,.371),(.226,.365),(.260,.369),(.278,.364),(.279,.356),(.293,.370),(.295,.365),(.295,.357),(.295,.354),(.287,.364),(.310,.367),(.312,.354),(.336,.366),(.327,.359),(.328,.351),(.329,.347),(.331,.341),(.340,.357),(.342,.355),(.351,.355),(.342,.348),(.345,.346),(.353,.339),(.361,.335),(.364,.330),(.368,.327),(.372,.335),(.377,.340),(.383,.349),(.397,.347),(.400,.340),(.410,.346),(.262,.356),(.264,.348),(.281,.346),(.282,.340),(.289,.347),(.281,.331),(.327,.332),(.238,.335),(.236,.329),(.235,.318),(.277,.316),(.386,.313),(.383,.303),(.320,.301),
 (.230,.291),(.232,.295),(.263,.296),(.261,.287),(.268,.290),(.286,.296),(.286,.293),(.291,.286),(.310,.298),(.311,.292),(.303,.287),(.320,.291),(.320,.284),(.321,.301),(.321,.274),(.338,.299),(.337,.290),(.337,.287),(.338,.281),(.338,.274),(.340,.269),(.353,.296),(.352,.290),(.352,.284),(.357,.287),(.348,.281),(.354,.279),(.354,.273),(.369,.294),(.374,.280),(.375,.277),(.406,.291),(.409,.296),(.403,.285),(.400,.281),(.383,.303),(.402,.274),(.425,.273),(.233,.275),(.252,.278),(.252,.273),(.253,.261),(.254,.257),(.254,.252),(.257,.256),(.255,.246),(.265,.269),(.270,.269),(.271,.260),(.272,.252),(.289,.255),(.290,.250),(.305,.266),(.306,.258),(.307,.254),(.307,.248),(.313,.264),(.323,.260),(.323,.256),(.235,.252),(.233,.247),(.237,.241),(.237,.235),(.238,.228),(.233,.224),(.263,.234),(.270,.233),(.256,.226),(.274,.225),(.264,.223),(.266,.217),(.270,.217),(.270,.212),(.272,.207),(.297,.215),(.300,.210),(.303,.205),(.326,.214),(.331,.197),(.333,.203),(.359,.181),(.340,.171),(.294,.185),(.294,.180),(.239,.192),(.390,.190),(.391,.184),(.390,.177),(.390,.170),(.417,.176),(.420,.170),
 (.345,.131),(.351,.128),(.355,.118),(.375,.129),(.380,.138),(.382,.116),(.395,.110),(.389,.104),(.404,.127),(.413,.130),(.409,.115),(.412,.109),(.423,.106),(.437,.107),(.436,.143),(.466,.150),(.474,.171),(.421,.096),(.405,.096),(.398,.092),(.393,.097),(.380,.102),(.362,.109),(.350,.103),(.326,.113),(.289,.114),(.287,.106),(.288,.096),(.307,.100),(.253,.107),(.282,.134),(.295,.143),(.258,.132),(.249,.134),(.243,.020),(.246,.015),(.284,.003),(.320,.004),(.306,.018),(.336,.017),(.373,.018),(.435,.017),(.419,.018),(.450,.046),(.458,.090),(.471,.120),(.442,.159),(.314,.157),(.585,.232),(.543,.157),(.569,.160) ]

centers_x = [.265, .397, .428, .630, .839, .965]
centers_y = [.174, .263, .128, .168, .392, .051]

groups = [(orange, "#f46d43"), (lime, "#e6f598"), (maroon, "#9e0142"),
          (teal, "#66c2a5"), (purple, "#5e4fa2"), (yellow, "#fee08b")]

plt.rcParams["font.size"] = 12
plt.rcParams["axes.linewidth"] = 1.05
plt.rcParams["xtick.major.width"] = 1.05
plt.rcParams["ytick.major.width"] = 1.05
plt.rcParams["xtick.major.size"] = 3.6
plt.rcParams["ytick.major.size"] = 3.6
plt.rcParams["xtick.major.pad"] = 4.6
plt.rcParams["ytick.major.pad"] = 4.0

fig = plt.figure(figsize=(6.23, 4.2175), dpi=400)
ax = fig.add_axes([250 / 2492, 1 - 1470 / 1687, (2446 - 250) / 2492, (1470 - 41) / 1687])

for pts, col in groups:
    arr = np.array(pts)
    ax.scatter(arr[:, 0], arr[:, 1], s=1.8, facecolors="white", edgecolors=col, linewidths=0.55)
for pts, col in groups:
    arr = np.array(pts)
    ax.scatter(arr[:, 0], arr[:, 1], s=0.13, c="black", linewidths=0)

ax.scatter(centers_x, centers_y, s=25, c="cyan", edgecolors="black", linewidths=1.15, zorder=5)

ax.set_xlabel("signal", labelpad=4)
ax.set_ylabel("range", labelpad=4)
ax.set_xlim(-0.0497, 1.0497)
ax.set_ylim(-0.0453, 0.9218)
ax.set_xticks([0.0, 0.2, 0.4, 0.6, 0.8, 1.0])
ax.set_yticks([0.0, 0.2, 0.4, 0.6, 0.8])

plt.savefig("out.png", dpi=400)
plt.close()
